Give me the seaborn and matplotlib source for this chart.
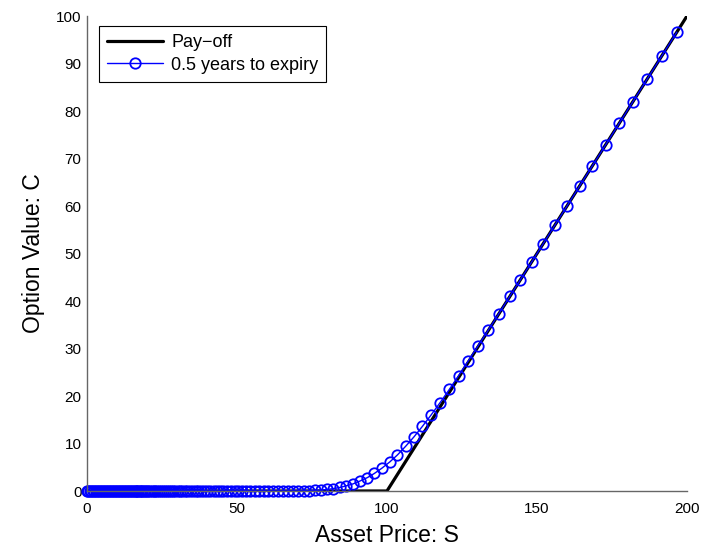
import matplotlib
matplotlib.use("Agg")
import matplotlib.pyplot as plt
import pandas as pd
import seaborn as sns
from matplotlib.lines import Line2D

# Pay-off of the call at expiry (strike 100)
payoff_s = [0, 100, 200]
payoff_c = [0, 0, 100]

# Option value with 0.5 years to expiry, on the solver's grid
asset_price = [
    0.0, 0.5, 1.0, 1.5, 2.0, 2.5, 3.0, 3.5, 4.0, 4.5, 5.0, 5.5, 6.0, 6.5, 7.0, 7.5,
    8.0, 8.5, 9.0, 9.5, 10.0, 10.5, 11.0, 11.5, 12.0, 12.5, 13.0, 13.5, 14.0, 14.5, 15.0,
    15.5, 15.9, 16.3, 16.7, 17.1, 17.6, 18.0, 18.5, 19.0, 19.5, 20.0, 20.5, 21.1, 21.6,
    22.2, 22.8, 23.4, 24.0, 24.6, 25.2, 25.9, 26.6, 27.3, 28.0, 28.7, 29.4, 30.2, 31.0,
    31.8, 32.6, 33.5, 34.3, 35.2, 36.2, 37.1, 38.1, 39.0, 40.1, 41.1, 42.2, 43.3, 44.4,
    45.5, 46.7, 47.9, 49.2, 50.5, 51.8, 53.1, 54.5, 55.9, 57.4, 58.9, 60.4, 62.0, 63.6,
    65.2, 66.9, 68.7, 70.4, 72.3, 74.1, 76.1, 78.0, 80.1, 82.1, 84.3, 86.5, 88.7, 91.0,
    93.4, 95.8, 98.3, 100.9, 103.5, 106.2, 109.0, 111.8, 114.7, 117.7, 120.8, 123.9,
    127.1, 130.4, 133.8, 137.3, 140.9, 144.5, 148.3, 152.1, 156.1, 160.1, 164.3, 168.5,
    172.9, 177.4, 182.0, 186.8, 191.6, 196.6,
]
option_value = [
    0.0, 0.0, 0.0, 0.0, 0.0, 0.0, 0.0, 0.0, 0.0, 0.0, 0.0, 0.0, 0.0, 0.0, 0.0, 0.0,
    0.0, 0.0, 0.0, 0.0, 0.0, 0.0, 0.0, 0.0, 0.0, 0.0, 0.0, 0.0, 0.0, 0.0, 0.0,
    0.0, 0.0, 0.0, 0.0, 0.0, 0.0, 0.0, 0.0, 0.0, 0.0, 0.0, 0.0, 0.0, 0.0,
    0.0, 0.0, 0.0, 0.0, 0.0, 0.0, 0.0, 0.0, 0.0, 0.0, 0.0, 0.0, 0.0, 0.0,
    0.0, 0.0, 0.0, 0.0, 0.0, 0.0, 0.0, 0.0, 0.0, 0.0, 0.0, 0.0, 0.0, 0.0,
    0.0, 0.0, 0.0, 0.0, 0.0, 0.0, 0.0, 0.0, 0.0, 0.0, 0.0, 0.0, 0.0, 0.0,
    0.0, 0.01, 0.02, 0.03, 0.05, 0.08, 0.13, 0.2, 0.33, 0.5, 0.75, 1.1, 1.5, 2.1,
    2.8, 3.7, 4.8, 6.1, 7.6, 9.4, 11.4, 13.6, 16.0, 18.6, 21.4, 24.3,
    27.4, 30.6, 33.9, 37.35, 40.95, 44.5, 48.3, 52.1, 56.1, 60.1, 64.3, 68.5,
    72.9, 77.4, 82.0, 86.8, 91.6, 96.6,
]

x_ticks = [0, 50, 100, 150, 200]
y_ticks = [0, 10, 20, 30, 40, 50, 60, 70, 80, 90, 100]

sns.set_style("white")
plt.rcParams["font.family"] = ["Liberation Sans", "DejaVu Sans"]
plt.rcParams["text.color"] = "black"
plt.rcParams["axes.labelcolor"] = "black"

payoff_df = pd.DataFrame({"S": payoff_s, "C": payoff_c})
value_df = pd.DataFrame({"S": asset_price, "C": option_value})

fig = plt.figure(figsize=(7.07, 5.52), dpi=100)
ax = fig.add_axes([0.123, 0.1105, 0.8487, 0.8605])

sns.lineplot(data=payoff_df, x="S", y="C", ax=ax, color="black", linewidth=2.3,
             sort=False, estimator=None)
sns.lineplot(data=value_df, x="S", y="C", ax=ax, color="#0000ff", linewidth=1.0,
             marker="o", markersize=7.5, markerfacecolor="none",
             markeredgecolor="#0000ff", markeredgewidth=1.3,
             sort=False, estimator=None)
ax.lines[-1].set_clip_on(False)

ax.set_xlim(0, 200)
ax.set_ylim(0, 100)
ax.set_xticks(x_ticks)
ax.set_yticks(y_ticks)
ax.set_xticklabels([str(v) for v in x_ticks])
ax.set_yticklabels([str(v) for v in y_ticks])
ax.tick_params(axis="both", direction="in", length=4, width=0.8, color="#555555",
               labelsize=11, labelcolor="black", pad=4)
ax.tick_params(axis="x", pad=8)

for side in ("top", "right"):
    ax.spines[side].set_visible(False)
for side in ("left", "bottom"):
    ax.spines[side].set_color("#666666")
    ax.spines[side].set_linewidth(1.0)

ax.set_xlabel("Asset Price: S", fontsize=16.5, labelpad=6, color="black")
ax.set_ylabel("Option Value: C", fontsize=16.5, labelpad=8, color="black")

handles = [
    Line2D([], [], color="black", linewidth=2.3),
    Line2D([], [], color="#0000ff", linewidth=1.0, marker="o", markersize=7.5,
           markerfacecolor="none", markeredgewidth=1.3),
]
leg = ax.legend(handles, ["Pay\u2212off", "0.5 years to expiry"],
                loc="upper left", bbox_to_anchor=(0.02, 0.979), borderaxespad=0,
                fontsize=13, frameon=True, fancybox=False, framealpha=1,
                edgecolor="black", handlelength=3.1, handletextpad=0.45,
                labelspacing=0.3, borderpad=0.45)
leg.get_frame().set_linewidth(0.8)
for t in leg.get_texts():
    t.set_color("black")

fig.savefig("out.png", dpi=100)
